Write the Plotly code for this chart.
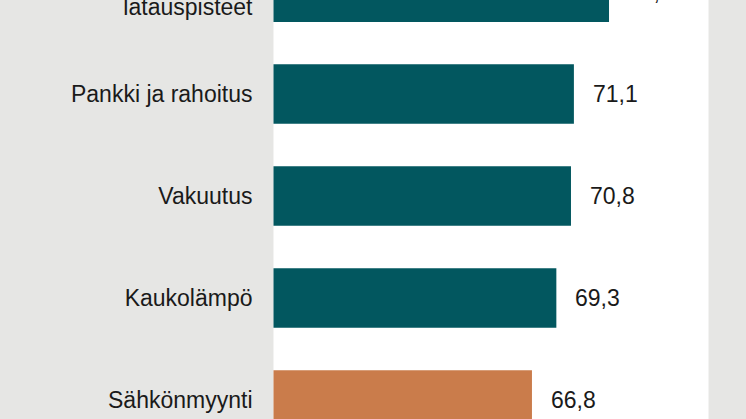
import plotly.graph_objects as go

# Data (top bar is cut off at the top edge)
categories = ["Sähköautojen<br>latauspisteet", "Pankki ja rahoitus", "Vakuutus",
              "Kaukolämpö", "Sähkönmyynti"]
values = [74.7, 71.1, 70.8, 69.3, 66.8]
labels = ["74,7", "71,1", "70,8", "69,3", "66,8"]
colors = ["#02575f", "#02575f", "#02575f", "#02575f", "#ca7c4b"]

# the reference is a crop: the chart is drawn taller and shifted up by this much
hidden_top = 60

fig = go.Figure()
fig.add_trace(go.Bar(
    x=values, y=categories, orientation="h",
    marker=dict(color=colors, line=dict(width=0)),
    width=0.585, hoverinfo="skip",
))

# value labels sit a bit away from the bar ends
for cat, val, lab in zip(categories, values, labels):
    fig.add_annotation(x=val, y=cat, text=lab, showarrow=False,
                       xanchor="left", xshift=17,
                       font=dict(size=23, color="#1a1a1a"))

fig.update_layout(
    width=746, height=419 + hidden_top,
    margin=dict(l=0, r=0, t=0, b=0),
    paper_bgcolor="#e6e6e4",
    plot_bgcolor="#ffffff",
    showlegend=False,
    font=dict(family="Liberation Sans, Arial, sans-serif", size=23, color="#1a1a1a"),
    xaxis=dict(domain=[273.5 / 746, 708.5 / 746], range=[40.3, 84.9],
               visible=False, showgrid=False, zeroline=False),
    yaxis=dict(type="category", categoryorder="array", categoryarray=categories,
               range=[4.186, 0.078 - hidden_top / 102], showgrid=False, zeroline=False,
               showline=False, ticks="", ticklabelstandoff=20),
)

fig.write_html(
    "out.html",
    config={"displayModeBar": False, "staticPlot": True},
    post_script="document.body.style.margin='0';"
                "document.body.style.marginTop='-%dpx';"
                "document.body.style.overflow='hidden';" % hidden_top,
)
